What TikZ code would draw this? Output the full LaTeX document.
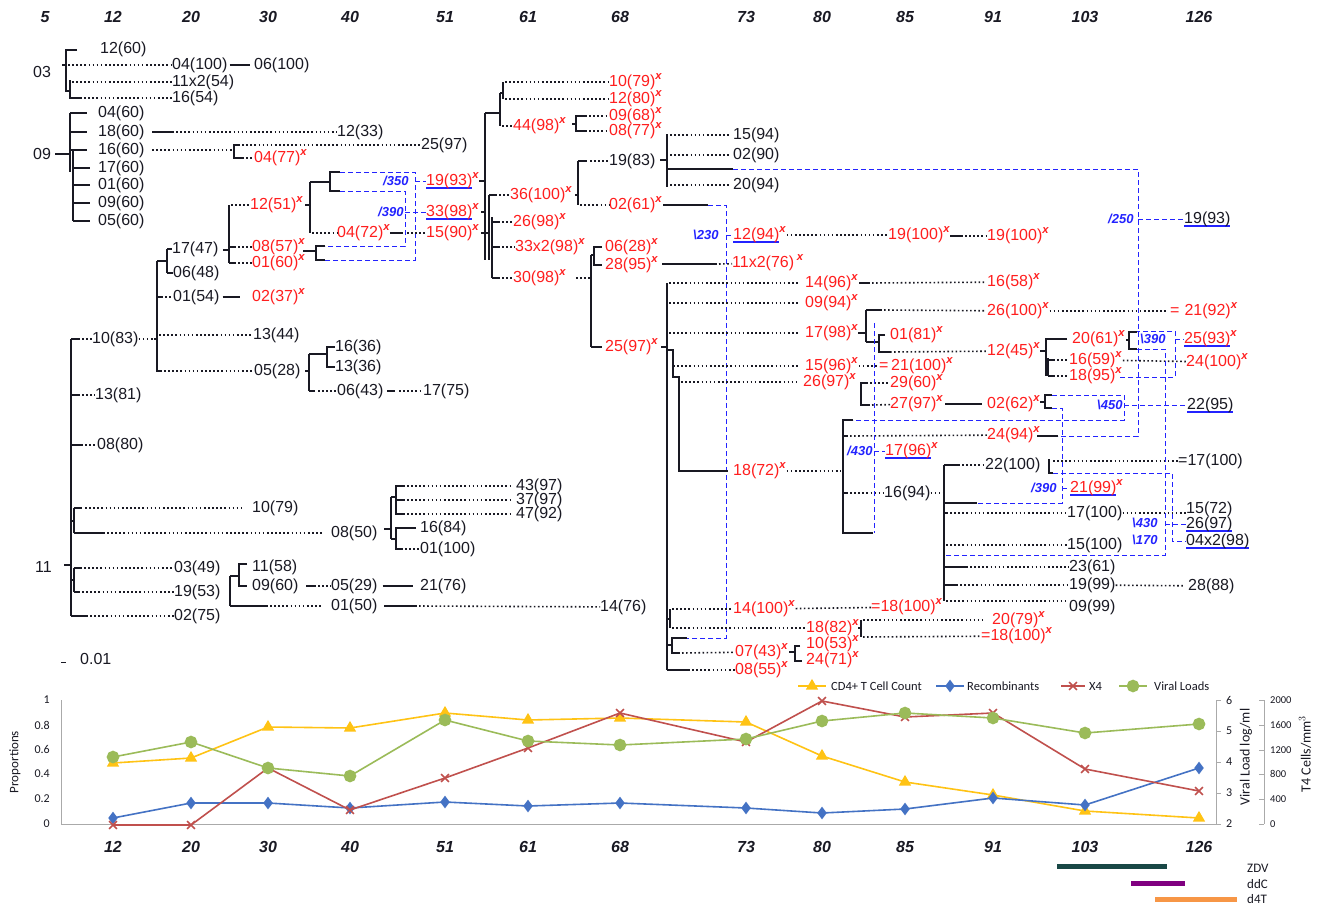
\documentclass[tikz,border=0pt]{standalone}
\usepackage{fontspec}
\setmainfont{Liberation Sans}
\newfontfamily\chartfont{Carlito}
\usetikzlibrary{positioning,plotmarks,calc}
\definecolor{ink}{RGB}{25,25,35}
\definecolor{hivred}{RGB}{255,30,30}
\definecolor{hivblue}{RGB}{35,35,255}
\definecolor{cdyellow}{RGB}{255,195,20}
\definecolor{recblue}{RGB}{68,114,196}
\definecolor{xred}{RGB}{192,80,77}
\definecolor{vlgreen}{RGB}{155,187,89}
\definecolor{zdvcol}{RGB}{25,72,70}
\definecolor{ddccol}{RGB}{128,0,128}
\definecolor{dfourt}{RGB}{247,150,70}
\definecolor{axgray}{RGB}{170,170,170}
\newcommand\xs{\smash{\textsuperscript{\textbf{\textit{x}}}}}
\newcommand\bul[1]{\setbox0\hbox{#1}\rlap{\color{hivblue}\rule[-3.5pt]{\wd0}{1.6pt}}\box0}
\tikzset{
    leaf/.style={anchor=west, inner sep=0pt, text=ink,
        font=\fontsize{16}{18}\selectfont},          % etiqueta de secuencia
    redleaf/.style={leaf, text=hivred},              % secuencia X4
    bluetag/.style={anchor=west, inner sep=0pt, text=hivblue,
        font=\fontsize{13}{15}\selectfont\bfseries\itshape},
    hdr/.style={inner sep=0pt, text=ink,
        font=\fontsize{16}{18}\selectfont\bfseries\itshape},
    solidbr/.style={line width=2pt, ink},            % rama continua
    dotbranch/.style={line width=1.6pt, ink, dash pattern=on 1.6pt off 2.5pt},
    linkdash/.style={line width=0.9pt, hivblue, dash pattern=on 5pt off 3pt},
    chartlbl/.style={inner sep=0pt, text=ink, font=\chartfont\fontsize{12}{14}\selectfont},
    axisline/.style={line width=0.9pt, axgray},
    cdline/.style={line width=1.6pt, cdyellow, mark=triangle*, mark size=5.5pt,
        mark options={fill=cdyellow, draw=cdyellow}},
    recline/.style={line width=1.6pt, recblue, mark=diamond*, mark size=5pt,
        mark options={fill=recblue, draw=recblue}},
    xline/.style={line width=1.6pt, xred, mark=x, mark size=5.5pt,
        mark options={line width=1.6pt}},
    vlline/.style={line width=1.6pt, vlgreen, mark=*, mark size=5.5pt,
        mark options={fill=vlgreen, draw=vlgreen}}
}
\begin{document}
\begin{tikzpicture}[x=1pt, y=-1pt]
\fill[white] (0,0) rectangle (1317,905);
\useasboundingbox (0,0) rectangle (1317,905);

% semanas
\foreach \x/\d in {45/5,113/12,191/20,268/30,350/40,445/51,528/61,620/68,746/73,822/80,905/85,993/91,1085/103,1199/126}
    \node[hdr] (top\d) at (\x,17) {\d};
\foreach \x/\d in {113/12,191/20,268/30,350/40,445/51,528/61,620/68,746/73,822/80,905/85,993/91,1085/103,1199/126}
    \node[hdr] (bot\d) at (\x,847) {\d};

% grupo 03
\node[leaf] (g03) at (33,72) {03};
\node[leaf] (p03a) at (100,49) {12(60)};
\node[leaf] (p03b) at (172,65) {04(100)};
\node[leaf] (p03c) at (254,65) {06(100)};
\node[leaf] (p03d) at (172,82) {11x2(54)};
\node[leaf] (p03e) at (172,98) {16(54)};
\draw[solidbr] (62,65) -- (66,65);
\draw[solidbr] (77,50) -- (66,50) -- (66,91) -- (70,91);
\draw[solidbr] (70,80) -- (70,98) -- (80,98);
\draw[dotbranch] (68,65) -- (p03b);
\draw[dotbranch] (72,82) -- (p03d);
\draw[dotbranch] (80,98) -- (p03e);
\draw[solidbr, shorten <=2pt, shorten >=4pt] (p03b) -- (p03c);

% grupo 09
\node[leaf] (g09) at (33,154) {09};
\foreach \n/\y/\t in {a/113/04(60),b/132/18(60),c/150/16(60),d/168/17(60),e/185/01(60),f/203/09(60),g/221/05(60)}
    \node[leaf] (p09\n) at (98,\y) {\t};
\draw[solidbr] (55,154) -- (70,154);
\draw[solidbr] (70,113) -- (70,172);
\draw[solidbr] (73,150) -- (73,221);
\foreach \y in {113,132,150} \draw[solidbr] (70,\y) -- (87,\y);
\foreach \y in {168,185,203,221} \draw[solidbr] (73,\y) -- (90,\y);
\node[leaf] (p09h) at (337,132) {12(33)};
\draw[solidbr] (152,132) -- (172,132);
\draw[dotbranch] (172,132) -- (p09h);
\draw[dotbranch] (152,150) -- (232,150);
\draw[solidbr] (234,144) -- (234,158) -- (244,158);
\node[leaf] (p09i) at (421,145) {25(97)};
\node[redleaf] (p09j) at (254,158) {04(77)\xs};
\draw[solidbr] (234,145) -- (238,145);
\draw[dotbranch] (238,145) -- (p09i);
\draw[dotbranch] (246,158) -- (p09j);

% clado 11, parte alta
\node[leaf] (g11) at (35,567) {11};
\draw[solidbr] (64,565) -- (71,565);
\draw[solidbr] (71,339) -- (71,616);
\node[leaf] (q1083) at (92,339) {10(83)};
\node[leaf] (q1381) at (95,395) {13(81)};
\node[leaf] (q0880) at (97,445) {08(80)};
\draw[solidbr] (71,339) -- (80,339);
\draw[dotbranch] (82,339) -- (q1083);
\draw[dotbranch] (q1083) -- (154,339);
\draw[solidbr] (71,395) -- (80,395);
\draw[dotbranch] (82,395) -- (q1381);
\draw[solidbr] (71,445) -- (83,445);
\draw[dotbranch] (85,445) -- (q0880);
\draw[solidbr] (154,339) -- (157,339);
\draw[solidbr] (157,261) -- (157,372);
\draw[solidbr] (157,261) -- (167,261);
\draw[solidbr] (167,249) -- (167,273);
\node[leaf] (q1747) at (172,249) {17(47)};
\node[leaf] (q0648) at (173,273) {06(48)};
\draw[solidbr] (167,249) -- (q1747);
\draw[solidbr] (167,273) -- (q0648);
\node[leaf] (q0154) at (173,297) {01(54)};
\node[redleaf] (q0237) at (252,297) {02(37)\xs};
\draw[solidbr] (157,297) -- (163,297);
\draw[dotbranch] (165,297) -- (q0154);
\draw[solidbr, shorten <=3pt, shorten >=12pt] (q0154) -- (q0237);
\node[leaf] (q1344) at (253,335) {13(44)};
\draw[dotbranch] (159,335) -- (q1344);
\node[leaf] (q0528) at (254,371) {05(28)};
\draw[solidbr] (157,371) -- (162,371);
\draw[dotbranch] (164,371) -- (q0528);
\draw[solidbr] (305,371) -- (309,371);
\draw[solidbr] (309,354) -- (309,391);
\draw[solidbr] (309,354) -- (327,354);
\draw[solidbr] (327,346) -- (327,368);
\node[leaf] (q1636) at (335,347) {16(36)};
\node[leaf] (q1336) at (335,367) {13(36)};
\draw[solidbr] (327,347) -- (q1636);
\draw[solidbr] (327,367) -- (q1336);
\node[leaf] (q0643) at (337,391) {06(43)};
\node[leaf] (q1775) at (423,391) {17(75)};
\draw[solidbr] (309,391) -- (315,391);
\draw[dotbranch] (318,391) -- (q0643);
\draw[solidbr] (387,391) -- (395,391);
\draw[dotbranch] (399,391) -- (q1775);

% 17(47) y sus hijos X4
\draw[solidbr] (223,250) -- (229,250);
\draw[solidbr] (229,205) -- (229,263);
\node[redleaf] (q1251) at (250,205) {12(51)\xs};
\node[redleaf] (q0857) at (252,247) {08(57)\xs};
\node[redleaf] (q0160) at (252,263) {01(60)\xs};
\draw[dotbranch] (231,205) -- (q1251);
\draw[solidbr] (229,247) -- (236,247);
\draw[dotbranch] (238,247) -- (q0857);
\draw[solidbr] (229,263) -- (236,263);
\draw[dotbranch] (238,263) -- (q0160);
\draw[solidbr] (305,205) -- (310,205);
\draw[solidbr] (310,182) -- (310,233);
\draw[solidbr] (310,182) -- (330,182);
\draw[solidbr] (340,172) -- (330,172) -- (330,191) -- (340,191);
\draw[linkdash] (340,172) -- (415,172) -- (415,260) -- (325,260);
\draw[linkdash] (340,191) -- (405,191) -- (405,246) -- (325,246);
\draw[solidbr] (303,251) -- (316,251);
\draw[solidbr] (325,246) -- (316,246) -- (316,260) -- (325,260);
\node[redleaf] (q0472) at (337,233) {04(72)\xs};
\node[redleaf] (q1590) at (426,233) {15(90)\xs};
\draw[dotbranch] (312,233) -- (q0472);
\draw[solidbr] (390,233) -- (403,233);
\draw[dotbranch] (407,233) -- (q1590);
\node[bluetag] (t350) at (383,181) {/350};
\node[bluetag] (t390a) at (378,212) {/390};
\node[redleaf] (q1993) at (426,181) {\bul{19(93)}\xs};
\node[redleaf] (q3398) at (426,212) {\bul{33(98)}\xs};
\draw[linkdash] (415,181) -- (q1993);
\draw[linkdash] (405,212) -- (q3398);

% clado 11, parte baja
\draw[solidbr] (71,521) -- (74,521);
\draw[solidbr] (74,508) -- (74,533);
\node[leaf] (q1079) at (252,508) {10(79)};
\draw[solidbr] (74,508) -- (82,508);
\draw[dotbranch, shorten >=8pt] (85,508) -- (q1079);
\node[leaf] (q0850) at (331,533) {08(50)};
\draw[solidbr] (74,533) -- (105,533);
\draw[dotbranch, shorten >=8pt] (107,533) -- (q0850);
\draw[solidbr] (384,529) -- (391,529);
\draw[solidbr] (391,497) -- (391,539);
\draw[solidbr] (391,497) -- (396,497);
\draw[solidbr] (405,486) -- (396,486) -- (396,514) -- (405,514);
\draw[solidbr] (396,500) -- (405,500);
\node[leaf] (q4397) at (516,486) {43(97)};
\node[leaf] (q3797) at (516,500) {37(97)};
\node[leaf] (q4792) at (516,514) {47(92)};
\draw[dotbranch, shorten >=6pt] (407,486) -- (q4397);
\draw[dotbranch, shorten >=6pt] (407,500) -- (q3797);
\draw[dotbranch, shorten >=6pt] (407,514) -- (q4792);
\draw[solidbr] (391,539) -- (396,539);
\draw[solidbr] (416,528) -- (396,528) -- (396,549) -- (403,549);
\node[leaf] (q1684) at (420,528) {16(84)};
\node[leaf] (q01100) at (420,549) {01(100)};
\draw[dotbranch] (405,549) -- (q01100);
\node[leaf] (q0349) at (174,568) {03(49)};
\node[leaf] (q1953) at (174,592) {19(53)};
\node[leaf] (q0275) at (174,616) {02(75)};
\draw[solidbr] (71,580) -- (74,580);
\draw[solidbr] (74,568) -- (74,592);
\draw[solidbr] (74,568) -- (82,568);
\draw[dotbranch] (84,568) -- (q0349);
\draw[solidbr] (74,592) -- (80,592);
\draw[dotbranch] (82,592) -- (q1953);
\draw[solidbr] (71,616) -- (88,616);
\draw[dotbranch] (90,616) -- (q0275);
\draw[solidbr] (230,576) -- (230,606);
\draw[solidbr] (230,576) -- (239,576);
\draw[solidbr] (247,564) -- (239,564) -- (239,586) -- (247,586);
\node[leaf] (q1158) at (252,567) {11(58)};
\node[leaf] (q0960) at (252,586) {09(60)};
\node[leaf] (q0529) at (331,586) {05(29)};
\node[leaf] (q2176) at (420,586) {21(76)};
\draw[solidbr] (306,586) -- (316,586);
\draw[dotbranch] (318,586) -- (q0529);
\draw[solidbr, shorten <=5pt, shorten >=7pt] (q0529) -- (q2176);
\node[leaf] (q0150) at (331,606) {01(50)};
\node[leaf] (q1476) at (600,607) {14(76)};
\draw[solidbr] (230,606) -- (268,606);
\draw[dotbranch, shorten >=10pt] (270,606) -- (q0150);
\draw[solidbr] (384,606) -- (417,606);
\draw[dotbranch] (419,606) -- (q1476);
\draw[line width=1pt, ink] (61,662) -- (66,662);
\node[leaf] (scl) at (80,659) {0.01};

% arbol central
\draw[solidbr] (479,181) -- (485,181);
\draw[solidbr] (481,212) -- (486,212);
\draw[solidbr] (481,233) -- (489,233);
\draw[solidbr] (485,113) -- (485,260);
\draw[solidbr] (489,195) -- (489,260);
\draw[solidbr] (492,217) -- (492,278);
\draw[solidbr] (485,113) -- (500,113);
\draw[solidbr] (500,93) -- (500,126);
\draw[solidbr] (500,93) -- (503,93);
\draw[solidbr] (503,82) -- (503,99);
\node[redleaf] (m1079) at (609,82) {10(79)\xs};
\node[redleaf] (m1280) at (609,99) {12(80)\xs};
\draw[dotbranch] (505,82) -- (m1079);
\draw[dotbranch] (505,99) -- (m1280);
\node[redleaf] (m4498) at (513,126) {44(98)\xs};
\draw[dotbranch] (502,126) -- (m4498);
\draw[solidbr] (572,124) -- (576,124);
\draw[solidbr] (585,116) -- (576,116) -- (576,131) -- (585,131);
\node[redleaf] (m0968) at (609,116) {09(68)\xs};
\node[redleaf] (m0877) at (609,131) {08(77)\xs};
\draw[dotbranch] (585,116) -- (m0968);
\draw[dotbranch] (585,131) -- (m0877);
\node[redleaf] (m36100) at (510,195) {36(100)\xs};
\draw[solidbr] (489,195) -- (497,195);
\draw[dotbranch] (499,195) -- (m36100);
\draw[solidbr] (575,195) -- (578,195);
\draw[solidbr] (578,161) -- (578,205);
\node[leaf] (m1983) at (609,161) {19(83)};
\node[redleaf] (m0261) at (609,205) {02(61)\xs};
\draw[solidbr] (578,161) -- (587,161);
\draw[dotbranch] (590,161) -- (m1983);
\draw[dotbranch] (580,205) -- (m0261);
\draw[solidbr] (663,205) -- (708,205);
\draw[linkdash] (708,205) -- (726,205) -- (726,638) -- (687,638);
\node[bluetag] (t230) at (693,235) {\textbackslash 230};
\node[redleaf] (m1294) at (733,235) {\bul{12(94)}\xs};
\draw[linkdash] (726,235) -- (m1294);
\node[redleaf] (m19100a) at (888,235) {19(100)\xs};
\node[redleaf] (m19100b) at (987,236) {19(100)\xs};
\draw[dotbranch] (m1294) -- (m19100a);
\draw[solidbr] (950,236) -- (963,236);
\draw[dotbranch] (965,236) -- (m19100b);
\draw[solidbr] (660,160) -- (667,160);
\draw[solidbr] (667,134) -- (667,187);
\node[leaf] (m1594) at (733,135) {15(94)};
\node[leaf] (m0290) at (733,155) {02(90)};
\node[leaf] (m2094) at (733,185) {20(94)};
\draw[dotbranch, shorten >=4pt] (670,135) -- (m1594);
\draw[dotbranch, shorten >=4pt] (670,155) -- (m0290);
\draw[dotbranch, shorten >=4pt] (670,185) -- (m2094);
\draw[solidbr] (667,169) -- (733,169);
\draw[linkdash] (733,169) -- (1138,169) -- (1138,436) -- (1058,436);
\node[bluetag] (t250) at (1108,219) {/250};
\node[leaf] (m1993) at (1184,219) {\bul{19(93)}};
\draw[linkdash] (1138,219) -- (m1993);
\node[redleaf] (m2698) at (513,222) {26(98)\xs};
\draw[solidbr] (492,222) -- (500,222);
\draw[dotbranch] (502,222) -- (m2698);
\node[redleaf] (m33x2) at (515,247) {33x2(98)\xs};
\draw[solidbr] (492,247) -- (500,247);
\draw[dotbranch] (502,247) -- (m33x2);
\node[redleaf] (m3098) at (513,278) {30(98)\xs};
\draw[solidbr] (492,278) -- (500,278);
\draw[dotbranch] (502,278) -- (m3098);
\draw[dotbranch] (576,278) -- (591,278);
\draw[solidbr] (591,255) -- (591,347);
\draw[solidbr] (591,255) -- (594,255);
\draw[solidbr] (602,247) -- (594,247) -- (594,265) -- (602,265);
\node[redleaf] (m0628) at (605,247) {06(28)\xs};
\node[redleaf] (m2895) at (605,265) {28(95)\xs};
\draw[solidbr] (662,264) -- (717,264);
\node[redleaf] (m11x2) at (732,263) {11x2(76)\,\xs};
\draw[dotbranch] (719,264) -- (m11x2);
\draw[solidbr] (591,347) -- (602,347);
\node[redleaf] (m2597) at (605,347) {25(97)\xs};
\draw[solidbr] (661,347) -- (667,347);

% arbol derecho
\draw[solidbr] (667,283) -- (667,670);
\node[redleaf] (r1496) at (805,283) {14(96)\xs};
\draw[dotbranch, shorten >=6pt] (669,283) -- (r1496);
\draw[solidbr] (859,283) -- (870,283);
\node[redleaf] (r1658) at (987,282) {16(58)\xs};
\draw[dotbranch, shorten >=3pt] (872,283) -- (r1658);
\node[redleaf] (r0994) at (805,303) {09(94)\xs};
\draw[dotbranch, shorten >=6pt] (669,303) -- (r0994);
\node[redleaf] (r1798) at (805,333) {17(98)\xs};
\draw[dotbranch, shorten >=6pt] (669,333) -- (r1798);
\draw[solidbr] (858,333) -- (866,333);
\draw[solidbr] (866,310) -- (866,342);
\draw[solidbr] (866,310) -- (882,310);
\node[redleaf] (r26100) at (987,311) {26(100)\xs};
\draw[dotbranch, shorten >=3pt] (884,310) -- (r26100);
\node[redleaf] (r2192) at (1170,311) {=\hspace{5pt}21(92)\xs};
\draw[dotbranch, shorten >=3pt] (r26100) -- (r2192);
\draw[solidbr] (866,342) -- (879,342);
\draw[solidbr] (885,335) -- (879,335) -- (879,352) -- (890,352);
\node[redleaf] (r0181) at (890,335) {01(81)\xs};
\node[redleaf] (r1245) at (987,351) {12(45)\xs};
\draw[dotbranch] (890,352) -- (r1245);
\draw[solidbr] (1040,351) -- (1046,351);
\draw[solidbr] (1067,339) -- (1046,339) -- (1046,376);
\draw[solidbr] (1048,358) -- (1048,376);
\node[redleaf] (r2061) at (1072,339) {20(61)\xs};
\node[redleaf] (r1659) at (1069,360) {16(59)\xs};
\node[redleaf] (r1895) at (1069,376) {18(95)\xs};
\draw[solidbr] (1048,360) -- (1055,360);
\draw[dotbranch] (1057,360) -- (r1659);
\draw[solidbr] (1048,376) -- (1055,376);
\draw[dotbranch] (1057,376) -- (r1895);
\node[redleaf] (r24100) at (1186,362) {24(100)\xs};
\draw[dotbranch] (r1659) -- (r24100);
\draw[solidbr] (1126,340) -- (1129,340);
\draw[solidbr] (1137,332) -- (1129,332) -- (1129,349) -- (1137,349);
\draw[linkdash] (1120,377) -- (1175,377) -- (1175,331) -- (1137,331);
\draw[linkdash] (1137,349) -- (1165,349) -- (1165,555) -- (944,555);
\node[bluetag] (t390b) at (1140,339) {\textbackslash 390};
\node[redleaf] (r2593) at (1184,339) {\bul{25(93)}\xs};
\draw[linkdash] (1175,339) -- (r2593);
\node[redleaf] (r1596) at (805,366) {15(96)\xs};
\draw[dotbranch, shorten >=6pt] (673,366) -- (r1596);
\node[redleaf] (r21100) at (879,366) {=\,21(100)\xs};
\draw[dotbranch] (r1596) -- (r21100);
\draw[solidbr] (667,350) -- (673,350) -- (673,377) -- (679,377) -- (679,471) -- (728,471);
\node[redleaf] (r2697) at (803,382) {26(97)\xs};
\draw[dotbranch, shorten >=6pt] (681,382) -- (r2697);
\draw[solidbr] (868,383) -- (861,383) -- (861,405) -- (870,405);
\node[redleaf] (r2960) at (890,383) {29(60)\xs};
\node[redleaf] (r2797) at (890,404) {27(97)\xs};
\draw[dotbranch] (870,383) -- (r2960);
\draw[dotbranch] (872,405) -- (r2797);
\draw[solidbr] (945,404) -- (982,404);
\node[redleaf] (r0262) at (987,404) {02(62)\xs};
\draw[solidbr] (1040,402) -- (1045,402);
\draw[solidbr] (1052,395) -- (1045,395) -- (1045,408) -- (1052,408);
\draw[linkdash] (1052,395) -- (1124,395) -- (1124,420) -- (853,420);
\draw[solidbr] (853,420) -- (843,420) -- (843,533) -- (873,533);
\node[bluetag] (t450) at (1097,405) {\textbackslash 450};
\node[leaf] (r2295) at (1187,405) {\bul{22(95)}};
\draw[linkdash] (1124,405) -- (r2295);
\draw[linkdash] (1052,408) -- (1062,408) -- (1062,503) -- (977,503);
\draw[solidbr] (977,503) -- (944,503);
\node[bluetag] (t390c) at (1031,488) {/390};
\node[redleaf] (r2199) at (1070,488) {\bul{21(99)}\xs};
\draw[linkdash] (1062,488) -- (r2199);
\node[redleaf] (r2494) at (987,435) {24(94)\xs};
\draw[solidbr] (843,436) -- (848,436);
\draw[dotbranch] (850,436) -- (r2494);
\draw[solidbr] (1037,436) -- (1058,436);
\draw[linkdash] (874,323) -- (874,533);
\node[bluetag] (t430a) at (847,451) {/430};
\node[redleaf] (r1796) at (885,451) {\bul{17(96)}\xs};
\draw[linkdash] (874,451) -- (r1796);
\node[redleaf] (r1872) at (733,471) {18(72)\xs};
\draw[dotbranch] (r1872) -- (841,471);
\node[leaf] (r1694) at (884,493) {16(94)};
\draw[solidbr] (843,493) -- (848,493);
\draw[dotbranch] (850,493) -- (r1694);
\draw[dotbranch] (r1694) -- (944,493);
\draw[solidbr] (944,465) -- (944,601);
\draw[solidbr] (944,465) -- (960,465);
\node[leaf] (r22100) at (985,465) {22(100)};
\draw[dotbranch] (962,465) -- (r22100);
\draw[solidbr] (1049,459) -- (1049,473) -- (1053,473);
\node[leaf] (r17100a) at (1178,461) {=17(100)};
\draw[dotbranch] (1053,461) -- (r17100a);
\node[leaf] (r17100b) at (1067,513) {17(100)};
\draw[solidbr] (944,513) -- (948,513);
\draw[dotbranch] (950,513) -- (r17100b);
\node[leaf] (r1572) at (1186,509) {15(72)};
\draw[dotbranch] (r17100b.east) -- (r1572.west |- r17100b.east);
\node[bluetag] (t430b) at (1132,523) {\textbackslash 430};
\node[leaf] (r2697k) at (1186,524) {\bul{26(97)}};
\draw[linkdash] (1165,524) -- (r2697k);
\node[leaf] (r15100) at (1067,545) {15(100)};
\draw[dotbranch] (946,545) -- (r15100);
\node[bluetag] (t170) at (1132,540) {\textbackslash 170};
\node[leaf] (r04x2) at (1186,541) {\bul{04x2(98)}};
\draw[linkdash] (1053,473) -- (1172,473) -- (1172,541) -- (r04x2);
\node[leaf] (r2361) at (1069,567) {23(61)};
\draw[solidbr] (944,567) -- (968,567);
\draw[dotbranch] (970,567) -- (r2361);
\node[leaf] (r1999) at (1069,585) {19(99)};
\draw[solidbr] (944,585) -- (958,585);
\draw[dotbranch] (960,585) -- (r1999);
\node[leaf] (r2888) at (1188,586) {28(88)};
\draw[dotbranch, shorten >=4pt] (r1999) -- (r2888);
\node[leaf] (r0999) at (1069,607) {09(99)};
\draw[dotbranch] (946,601) -- (1065,601);
\node[redleaf] (r14100) at (733,609) {14(100)\xs};
\draw[solidbr] (667,619) -- (670,619);
\draw[solidbr] (670,609) -- (670,628);
\draw[dotbranch] (672,609) -- (r14100);
\node[redleaf] (r18100a) at (871,607) {=18(100)\xs};
\draw[dotbranch] (r14100) -- (r18100a);
\node[redleaf] (r1882) at (806,628) {18(82)\xs};
\draw[dotbranch] (672,628) -- (r1882);
\draw[solidbr] (858,628) -- (861,628);
\draw[solidbr] (861,620) -- (861,637);
\node[redleaf] (r2079) at (992,620) {20(79)\xs};
\node[redleaf] (r18100b) at (981,636) {=18(100)\xs};
\draw[dotbranch, shorten >=10pt] (863,620) -- (r2079);
\draw[dotbranch] (863,637) -- (r18100b);
\draw[solidbr] (667,645) -- (672,645);
\draw[solidbr] (687,638) -- (672,638) -- (672,653) -- (680,653);
\node[redleaf] (r0743) at (735,652) {07(43)\xs};
\draw[dotbranch] (682,653) -- (r0743);
\draw[solidbr] (789,652) -- (795,652);
\draw[solidbr] (800,646) -- (795,646) -- (795,661) -- (802,661);
\node[redleaf] (r1053) at (806,644) {10(53)\xs};
\node[redleaf] (r2471) at (806,660) {24(71)\xs};
\draw[solidbr] (667,670) -- (690,670);
\node[redleaf] (r0855) at (735,670) {08(55)\xs};
\draw[dotbranch] (692,670) -- (r0855);

% grafico inferior
\draw[axisline] (61,700) -- (61,824) -- (1216,824) -- (1216,700);
\draw[axisline] (1264,700) -- (1264,824);
\foreach \v/\y [count=\i] in {1/700,0.8/725,0.6/749,0.4/774,0.2/799,0/824}
    \node[chartlbl, anchor=east] (pl\i) at (50,\y) {\v};
\foreach \v/\y in {6/700,5/731,4/762,3/793,2/824} {
    \draw[axisline] (1216,\y) -- (1221,\y);
    \node[chartlbl, anchor=west] (vl\v) at (1226,\y) {\v};
}
\foreach \v/\y in {2000/700,1600/725,1200/750,800/774,400/799,0/824} {
    \draw[axisline] (1259,\y) -- (1264,\y);
    \node[chartlbl, anchor=west, font=\chartfont\fontsize{10.5}{12}\selectfont] (tc\v) at (1270,\y) {\v};
}
\node[chartlbl, rotate=90, font=\chartfont\fontsize{13}{15}\selectfont] (ylab) at (15,762) {Proportions};
\node[chartlbl, rotate=90, font=\chartfont\fontsize{14}{16}\selectfont] (vllab) at (1246,757) {Viral Load log/ml};
\node[chartlbl, rotate=90, font=\chartfont\fontsize{14}{16}\selectfont] (t4lab) at (1305,754) {T4 Cells/mm$^3$};

\draw[cdline] plot coordinates {(113,763) (191,758) (268,727) (350,728) (445,713) (528,720) (620,718) (746,722) (822,756) (905,782) (993,795) (1085,811) (1199,818)};
\draw[recline] plot coordinates {(113,818) (191,803) (268,803) (350,808) (445,802) (528,806) (620,803) (746,808) (822,813) (905,809) (993,798) (1085,805) (1199,768)};
\draw[xline] plot coordinates {(113,825) (191,825) (268,768) (350,810) (445,778) (528,748) (620,713) (746,742) (822,701) (905,717) (993,713) (1085,769) (1199,791)};
\draw[vlline] plot coordinates {(113,757) (191,742) (268,768) (350,776) (445,720) (528,741) (620,745) (746,739) (822,721) (905,713) (993,718) (1085,733) (1199,724)};

% leyenda
\draw[cdline, mark indices={2}] plot coordinates {(798,686) (812,686) (826,686)};
\node[chartlbl, anchor=west, font=\chartfont\fontsize{12.5}{14}\selectfont] (lg1) at (831,686) {CD4+ T Cell Count};
\draw[recline, mark indices={2}] plot coordinates {(936,686) (950,686) (964,686)};
\node[chartlbl, anchor=west, font=\chartfont\fontsize{12.5}{14}\selectfont] (lg2) at (967,686) {Recombinants};
\draw[xline, mark indices={2}] plot coordinates {(1061,686) (1073,686) (1085,686)};
\node[chartlbl, anchor=west, font=\chartfont\fontsize{12.5}{14}\selectfont] (lg3) at (1089,686) {X4};
\draw[vlline, mark indices={2}] plot coordinates {(1119,686) (1133,686) (1147,686)};
\node[chartlbl, anchor=west, font=\chartfont\fontsize{12.5}{14}\selectfont] (lg4) at (1154,686) {Viral Loads};

% farmacos
\draw[line width=5pt, zdvcol] (1057,866) -- (1167,866);
\draw[line width=5pt, ddccol] (1131,883) -- (1185,883);
\draw[line width=5pt, dfourt] (1155,899) -- (1237,899);
\node[chartlbl, anchor=west, font=\chartfont\fontsize{13}{15}\selectfont] (zdv) at (1247,868) {ZDV};
\node[chartlbl, anchor=west, font=\chartfont\fontsize{13}{15}\selectfont] (ddc) at (1247,884) {ddC};
\node[chartlbl, anchor=west, font=\chartfont\fontsize{13}{15}\selectfont] (d4t) at (1247,899) {d4T};
\end{tikzpicture}
\end{document}
